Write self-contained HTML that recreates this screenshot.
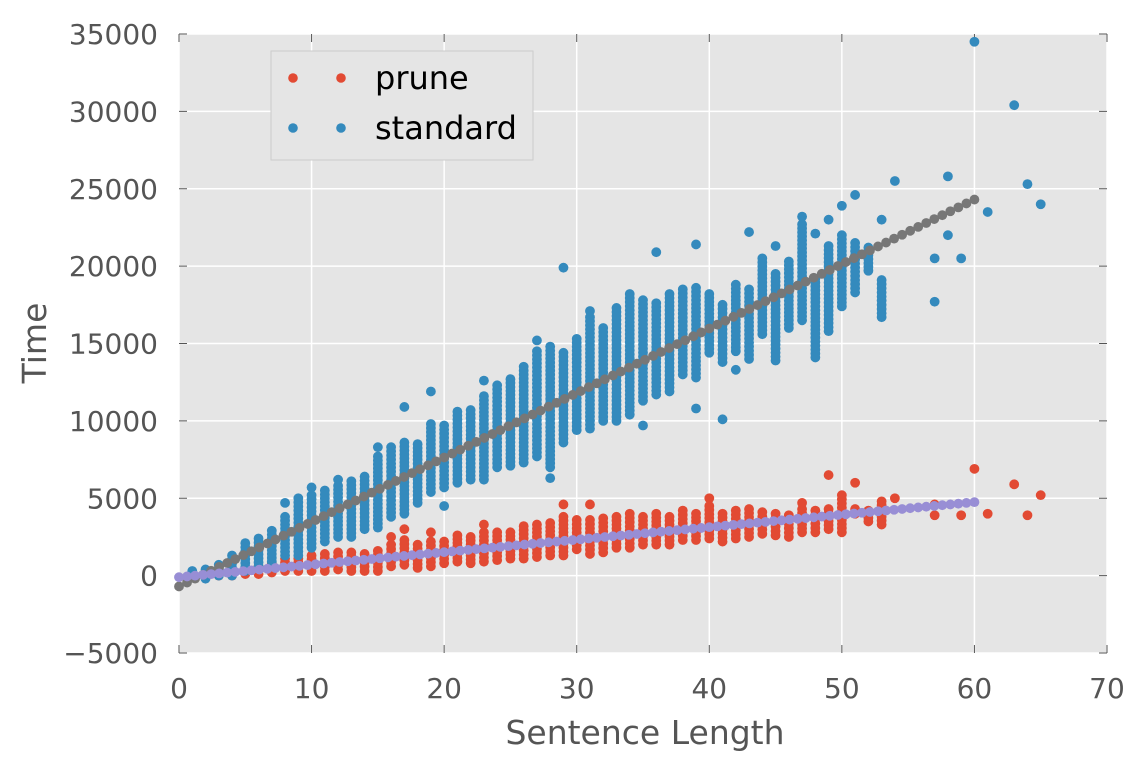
<!DOCTYPE html>
<html><head><meta charset="utf-8"><style>
html,body{margin:0;padding:0;background:#fff;}
svg text{font-family:"DejaVu Sans","Liberation Sans",sans-serif;}
</style></head><body>
<svg id="chart" width="1143" height="771" xmlns="http://www.w3.org/2000/svg">
<rect x="179" y="34" width="928" height="619" fill="#E5E5E5"/>
<g id="grid"></g>
<g id="ticks"></g>
<g id="marks"></g>
<text x="645" y="744" text-anchor="middle" font-size="33" fill="#555">Sentence Length</text>
<text transform="translate(46,343) rotate(-90)" text-anchor="middle" font-size="33" fill="#555">Time</text>
<g>
<rect x="271" y="51" width="262" height="109" fill="#E5E5E5" stroke="#ccc" stroke-width="1"/>
<circle cx="293" cy="78" r="4.8" fill="#E24A33"/><circle cx="341" cy="78" r="4.8" fill="#E24A33"/>
<text x="375" y="89" font-size="32" fill="#000">prune</text>
<circle cx="293" cy="128" r="4.8" fill="#348ABD"/><circle cx="341" cy="128" r="4.8" fill="#348ABD"/>
<text x="375" y="139" font-size="32" fill="#000">standard</text>
</g>
</svg>
<script>
const xTicks=[0,10,20,30,40,50,60,70];
const yTicks=[-5000,0,5000,10000,15000,20000,25000,30000,35000];
const yTickLabels=["\u22125000","0","5000","10000","15000","20000","25000","30000","35000"];
// standard: per sentence length 1..53, [low, high] of dense column
const stdLo=[0,-200,0,0,300,600,900,1300,1300,1800,2200,2500,2500,3000,3100,3800,4000,4700,5400,5700,6000,6200,6200,7000,7100,7300,7700,7000,8600,9400,9500,10000,10000,10400,11300,11700,11900,13000,12800,14400,13800,14500,14000,15600,13900,16000,16500,14100,15800,17400,18300,19700,16700];
const stdHi=[300,400,700,1300,2100,2400,2900,3800,5000,5200,5500,5800,6100,6400,7700,8300,8600,8500,9800,9700,10600,10700,11600,12300,12700,13500,14500,14800,14400,15300,16700,16000,17300,18200,17800,17600,18200,18500,18600,18200,17500,18800,18500,20500,19500,20300,22700,19200,21300,22000,21500,21200,19100];
const stdExtraX=[8,10,12,15,17,19,20,23,27,28,29,31,35,36,39,39,41,42,43,45,47,48,49,50,51,53,54,57,57,58,58,59,60,61,63,64,65];
const stdExtraY=[4700,5700,6200,8300,10900,11900,4500,12600,15200,6300,19900,17100,9700,20900,21400,10800,10100,13300,22200,21300,23200,22100,23000,23900,24600,23000,25500,17700,20500,22000,25800,20500,34500,23500,30400,25300,24000];
const pruneLo=[0,-100,0,0,100,100,200,300,300,300,300,400,300,300,300,600,700,500,600,800,900,800,900,1000,1100,1100,1200,1300,1300,1700,1400,1500,1800,1800,2000,2000,2000,2300,2300,2400,2200,2400,2500,2700,2600,2500,2800,2800,3000,2800,4000,3500,3300];
const pruneHi=[100,200,300,400,500,600,800,1100,1100,1300,1400,1500,1500,1400,1600,2000,2300,2000,2200,2200,2600,2500,2800,2800,2800,3200,3300,3400,3800,3600,3600,3700,3800,4000,3800,4000,3800,4200,4000,4500,4000,4200,4300,4100,4000,3900,4300,4200,4300,5200,4300,4200,4800];
const pruneExtraX=[16,17,19,23,29,31,40,47,49,51,54,57,57,59,60,61,63,64,65];
const pruneExtraY=[2500,3000,2800,3300,4600,4600,5000,4700,6500,6000,5000,3900,4600,3900,6900,4000,5900,3900,5200];
// linear fits: intercept, slope
const stdFit=[-700,416.7];
const pruneFit=[-100,80.8];
const fitRange=[0,60];

const X0=179,X1=1107,Y0=653,Y1=34;
const sx=v=>X0+(v-0)/70*(X1-X0);
const sy=v=>Y0-(v+5000)/40000*(Y0-Y1);
const NS="http://www.w3.org/2000/svg";
const grid=document.getElementById('grid'),ticks=document.getElementById('ticks'),marks=document.getElementById('marks');
function mk(tag,attrs,parent){const e=document.createElementNS(NS,tag);for(const k in attrs)e.setAttribute(k,attrs[k]);parent.appendChild(e);return e;}
xTicks.forEach(t=>{
  const l=mk('line',{x1:sx(t),x2:sx(t),y1:Y1,y2:Y0,stroke:'#fff','stroke-width':1.5},grid);
  
  
  mk('line',{x1:sx(t),x2:sx(t),y1:Y0,y2:Y0-8,stroke:'#555','stroke-width':1},ticks);
  mk('line',{x1:sx(t),x2:sx(t),y1:Y1,y2:Y1+8,stroke:'#555','stroke-width':1},ticks);
  const tx=mk('text',{x:sx(t),y:Y0+45,'text-anchor':'middle','font-size':28,fill:'#555'},ticks);
  tx.textContent=t;
  
  
});
yTicks.forEach((t,i)=>{
  const l=mk('line',{x1:X0,x2:X1,y1:sy(t),y2:sy(t),stroke:'#fff','stroke-width':1.5},grid);
  
  
  mk('line',{x1:X0,x2:X0+8,y1:sy(t),y2:sy(t),stroke:'#555','stroke-width':1},ticks);
  mk('line',{x1:X1,x2:X1-8,y1:sy(t),y2:sy(t),stroke:'#555','stroke-width':1},ticks);
  const tx=mk('text',{x:X0-21,y:sy(t)+10,'text-anchor':'end','font-size':28,fill:'#555'},ticks);
  tx.textContent=yTickLabels[i];
  
  
});
function dot(x,v,c,name){
  const d=mk('circle',{cx:sx(x),cy:sy(v),r:4.9,fill:c},marks);
  
  
}
function columns(lo,hi,c,name){
  lo.forEach((a,i)=>{const b=hi[i];const n=Math.max(1,Math.round((b-a)/260));
    for(let k=0;k<=n;k++)dot(i+1,a+(b-a)*k/n,c,name);});
}
columns(pruneLo,pruneHi,'#E24A33','prune-point');
pruneExtraX.forEach((x,i)=>dot(x,pruneExtraY[i],'#E24A33','prune-point'));
columns(stdLo,stdHi,'#348ABD','standard-point');
stdExtraX.forEach((x,i)=>dot(x,stdExtraY[i],'#348ABD','standard-point'));
const nFit=100;
for(let k=0;k<nFit;k++){const x=fitRange[0]+(fitRange[1]-fitRange[0])*k/(nFit-1);dot(x,stdFit[0]+stdFit[1]*x,'#777777','standard-fit-point');}
for(let k=0;k<nFit;k++){const x=fitRange[0]+(fitRange[1]-fitRange[0])*k/(nFit-1);dot(x,pruneFit[0]+pruneFit[1]*x,'#988ED5','prune-fit-point');}
</script>
</body></html>
